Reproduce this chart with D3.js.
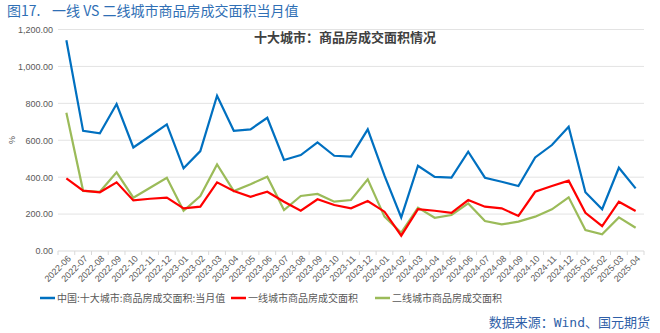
<!DOCTYPE html>
<html>
<head>
<meta charset="utf-8">
<script src="https://cdn.jsdelivr.net/npm/d3@7/dist/d3.min.js"></script>
<style>
  html, body { margin: 0; padding: 0; background: #fff; }
  svg { display: block; }
</style>
</head>
<body>
<svg id="chart" width="660" height="333"></svg>
<script>
// Monthly transaction area of commodity housing (10 major cities)
const months = [
  "2022-06","2022-07","2022-08","2022-09","2022-10","2022-11","2022-12",
  "2023-01","2023-02","2023-03","2023-04","2023-05","2023-06","2023-07","2023-08","2023-09","2023-10","2023-11","2023-12",
  "2024-01","2024-02","2024-03","2024-04","2024-05","2024-06","2024-07","2024-08","2024-09","2024-10","2024-11","2024-12",
  "2025-01","2025-02","2025-03","2025-04"
];
const tenCities = [
  1142, 651, 637, 796, 561, 623, 686,
  448, 541, 841, 651, 659, 722, 493, 520, 588, 516, 511, 659,
  408, 182, 462, 402, 397, 538, 397, 375, 352, 507, 574, 673,
  318, 226, 451, 339
];
const tier1 = [
  393, 327, 318, 372, 274, 283, 289,
  231, 240, 372, 325, 294, 321, 267, 218, 280, 249, 231, 271,
  213, 83, 227, 218, 207, 276, 240, 231, 190, 321, 352, 381,
  207, 135, 267, 217
];
const tier2 = [
  749, 326, 321, 426, 289, 343, 397,
  218, 298, 469, 325, 362, 402, 222, 298, 309, 267, 276, 388,
  186, 99, 235, 180, 195, 258, 162, 144, 159, 186, 226, 291,
  114, 90, 182, 126
];
const yTicks = [0, 200, 400, 600, 800, 1000, 1200];
const seriesNames = ["中国:十大城市:商品房成交面积:当月值", "一线城市商品房成交面积", "二线城市商品房成交面积"];
const seriesColors = ["#0070c0", "#ff0000", "#9bbb59"];

const svg = d3.select("#chart");
const margin = { left: 58, right: 16, top: 30, bottom: 82 };
const W = 660, H = 333;
const plotR = W - margin.right;   // 644
const plotB = 251;

const x = d3.scaleBand().domain(months).range([margin.left, plotR]);
const y = d3.scaleLinear().domain([0, 1200]).range([plotB, 29.5]);
const fmt = d3.format(",.2f");

// Figure heading
const head = svg.append("text")
  .attr("x", 7).attr("y", 16)
  .attr("font-family", "'Noto Sans CJK SC', sans-serif")
  .attr("font-size", 14)
  .attr("fill", "#2f6fb5");
head.append("tspan").text("图17.");
head.append("tspan").attr("x", 52).text("一线 VS 二线城市商品房成交面积当月值");

// Grid lines
svg.append("g")
  .selectAll("line")
  .data(yTicks.filter(d => d > 0))
  .join("line")
  .attr("x1", margin.left).attr("x2", plotR)
  .attr("y1", d => y(d)).attr("y2", d => y(d))
  .attr("stroke", "#e3e3e3").attr("stroke-width", 1);

// Y axis labels
const yAxis = d3.axisLeft(y).tickValues(yTicks).tickFormat(fmt).tickSize(0).tickPadding(5);
const gy = svg.append("g").attr("transform", `translate(${margin.left},0)`).call(yAxis);
gy.select(".domain").remove();
gy.selectAll("text")
  .attr("font-family", "'Liberation Sans', Arial, sans-serif")
  .attr("font-size", 9)
  .attr("fill", "#595959");

// Unit label
svg.append("text")
  .attr("transform", `translate(15,140) rotate(-90)`)
  .attr("text-anchor", "middle")
  .attr("font-family", "'Liberation Sans', Arial, sans-serif")
  .attr("font-size", 9)
  .attr("fill", "#595959")
  .text("%");

// X axis: baseline, boundary ticks, rotated month labels
const gx = svg.append("g");
gx.append("line")
  .attr("x1", margin.left).attr("x2", plotR)
  .attr("y1", plotB).attr("y2", plotB)
  .attr("stroke", "#d9d9d9").attr("stroke-width", 1);
const bounds = months.map(m => x(m)).concat([plotR]);
gx.selectAll("line.tk")
  .data(bounds)
  .join("line")
  .attr("class", "tk")
  .attr("x1", d => d).attr("x2", d => d)
  .attr("y1", plotB).attr("y2", plotB + 4)
  .attr("stroke", "#d9d9d9");
gx.selectAll("text")
  .data(months)
  .join("text")
  .attr("transform", d => `translate(${x(d) + x.bandwidth() / 2 + 3},${plotB + 6}) rotate(-45)`)
  .attr("text-anchor", "end")
  .attr("dy", "0.35em")
  .attr("font-family", "'Liberation Sans', Arial, sans-serif")
  .attr("font-size", 9)
  .attr("fill", "#595959")
  .text(d => d);

// Chart title
svg.append("text")
  .attr("x", 345).attr("y", 42)
  .attr("text-anchor", "middle")
  .attr("font-family", "'Noto Sans CJK SC', sans-serif")
  .attr("font-size", 13)
  .attr("font-weight", "bold")
  .attr("fill", "#404040")
  .text("十大城市：商品房成交面积情况");

// Lines
const line = d3.line()
  .x((d, i) => x(months[i]) + x.bandwidth() / 2)
  .y(d => y(d));
const seriesData = [tenCities, tier1, tier2];
// green first, then red, then blue on top
[2, 1, 0].forEach(i => {
  svg.append("path")
    .datum(seriesData[i])
    .attr("d", line)
    .attr("fill", "none")
    .attr("stroke", seriesColors[i])
    .attr("stroke-width", 2.2)
    .attr("stroke-linejoin", "miter");
});

// Legend
const legendX = [40, 231, 375];
const lg = svg.append("g");
seriesNames.forEach((name, i) => {
  lg.append("line")
    .attr("x1", legendX[i]).attr("x2", legendX[i] + 15)
    .attr("y1", 298).attr("y2", 298)
    .attr("stroke", seriesColors[i]).attr("stroke-width", 2.5);
  lg.append("text")
    .attr("x", legendX[i] + 17).attr("y", 298)
    .attr("dy", "0.35em")
    .attr("font-family", "'Noto Sans CJK SC', sans-serif")
    .attr("font-size", 10)
    .attr("fill", "#595959")
    .text(name);
});

// Source note
svg.append("text")
  .attr("x", 650).attr("y", 327)
  .attr("text-anchor", "end")
  .attr("font-family", "'DejaVu Sans Mono', 'Noto Sans CJK SC', monospace")
  .attr("font-size", 13)
  .attr("fill", "#2f5fa8")
  .text("数据来源：Wind、国元期货");
</script>
</body>
</html>
